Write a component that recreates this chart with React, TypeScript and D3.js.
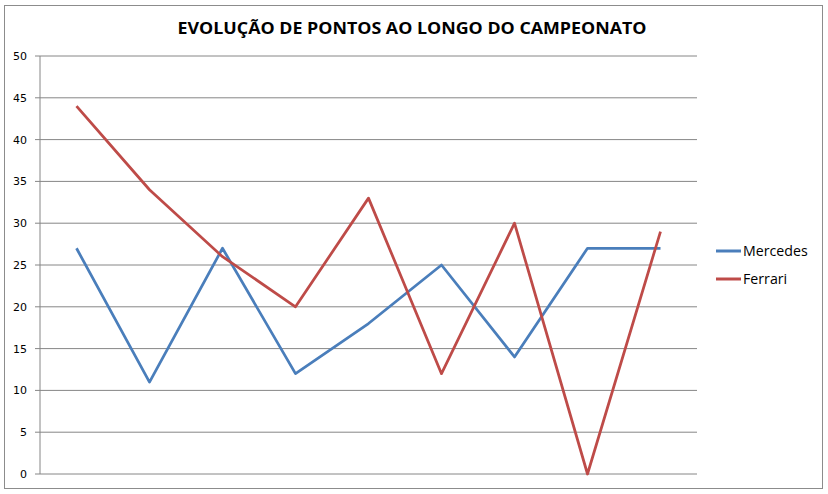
import * as d3 from "d3"

const categories = ["1", "2", "3", "4", "5", "6", "7", "8", "9"]
const mercedes = [27, 11, 27, 12, 18, 25, 14, 27, 27]
const ferrari = [44, 34, 26, 20, 33, 12, 30, 0, 29]
const yTicks = [0, 5, 10, 15, 20, 25, 30, 35, 40, 45, 50]

const series = [
  { name: "Mercedes", values: mercedes, color: "#4A7EBB" },
  { name: "Ferrari", values: ferrari, color: "#BE4B48" },
]

export default function App() {
  const W = 828
  const H = 494
  const left = 40
  const right = 697
  const top = 56
  const bottom = 474

  const x = d3.scaleBand<string>().domain(categories).range([left, right])
  const y = d3.scaleLinear().domain([0, 50]).range([bottom, top])

  const line = d3
    .line<number>()
    .x((_, i) => (x(categories[i]) || 0) + x.bandwidth() / 2)
    .y((d) => y(d))

  return (
    <svg
      width={W}
      height={H}
      style={{ position: "absolute", left: 0, top: 0, background: "#fff" }}
    >
      <rect x={4.5} y={5.5} width={818} height={483} fill="#fff" stroke="#8c8c8c" strokeWidth={1} />
      <text
        x={412}
        y={34}
        textAnchor="middle"
        fontFamily="'Open Sans', sans-serif"
        fontWeight="bold"
        fontSize={16.5}
        fill="#000"
        textLength={469}
        lengthAdjust="spacingAndGlyphs"
      >
        EVOLUÇÃO DE PONTOS AO LONGO DO CAMPEONATO
      </text>
      {yTicks.map((t) => (
        <g key={t}>
          <line x1={left - 5} x2={right} y1={y(t)} y2={y(t)} stroke="#868686" strokeWidth={1} />
          <text
            x={27}
            y={y(t) + 4}
            textAnchor="end"
            fontFamily="'DejaVu Sans', Verdana, sans-serif"
            fontSize={11}
            fill="#000"
          >
            {t}
          </text>
        </g>
      ))}
      <line x1={left} x2={left} y1={top} y2={bottom} stroke="#868686" strokeWidth={1} />
      {series.map((s) => (
        <path
          key={s.name}
          d={line(s.values) || ""}
          fill="none"
          stroke={s.color}
          strokeWidth={2.75}
          strokeLinejoin="round"
        />
      ))}
      {series.map((s, i) => (
        <g key={s.name}>
          <line x1={716} x2={741} y1={251 + i * 28} y2={251 + i * 28} stroke={s.color} strokeWidth={3} />
          <text
            x={743}
            y={256 + i * 28}
            fontFamily="'Open Sans', sans-serif"
            fontSize={14.2}
            fill="#000"
          >
            {s.name}
          </text>
        </g>
      ))}
    </svg>
  )
}
